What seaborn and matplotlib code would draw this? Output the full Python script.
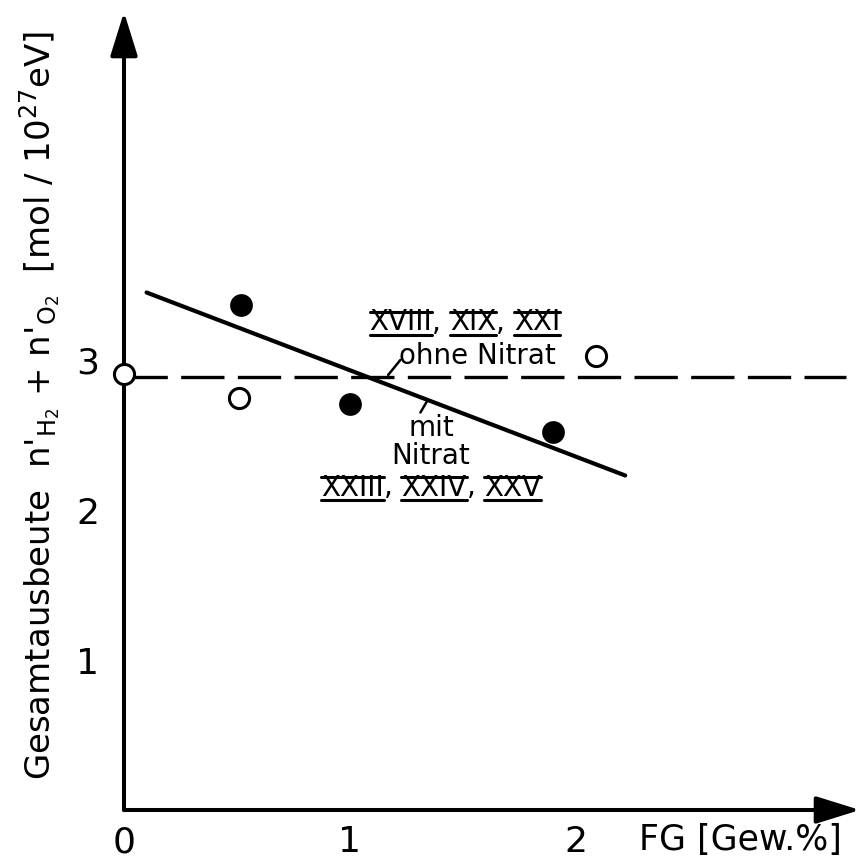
import matplotlib
matplotlib.use("Agg")
import matplotlib.pyplot as plt
import seaborn as sns
import pandas as pd

# ---- data ----
fg_mit = [0.52, 1.0, 1.9]
y_mit = [3.37, 2.71, 2.52]
fg_ohne = [0.0, 0.51, 2.09]
y_ohne = [2.91, 2.75, 3.03]
fit_mit_x = [0.10, 2.22]
fit_mit_y = [3.45, 2.23]
fit_ohne_x = [0.0, 3.2]
fit_ohne_y = [2.89, 2.89]
xticks = [0, 1, 2]
yticks = [1, 2, 3]

sns.set_theme(style="white")
plt.rcParams['font.family'] = ['DejaVu Sans']
plt.rcParams['mathtext.fontset'] = 'dejavusans'
plt.rcParams['text.color'] = 'black'
plt.rcParams['xtick.color'] = 'black'
plt.rcParams['ytick.color'] = 'black'

fig = plt.figure(figsize=(8.64, 8.64), dpi=100)
ax = fig.add_axes([124/864, 54/864, (860-124)/864, (810-15)/864])
ax.set_xlim(0, 3.26)
ax.set_ylim(0, 5.3)
for s in ax.spines.values():
    s.set_visible(False)

df_mit = pd.DataFrame({"x": fit_mit_x, "y": fit_mit_y})
df_ohne = pd.DataFrame({"x": fit_ohne_x, "y": fit_ohne_y})
sns.lineplot(data=df_ohne, x="x", y="y", ax=ax, color="black", lw=2.4,
             zorder=2).lines[-1].set_dashes([13, 4])
sns.lineplot(data=df_mit, x="x", y="y", ax=ax, color="black", lw=3.0, zorder=3)

sns.scatterplot(x=fg_mit, y=y_mit, ax=ax, s=230, color="black",
                edgecolor="black", zorder=4)
sns.scatterplot(x=fg_ohne, y=y_ohne, ax=ax, s=210, facecolor="white",
                edgecolor="black", linewidth=2.2, zorder=5)
for c in ax.collections:
    c.set_clip_on(False)

# axes with arrows
arrow_kw = dict(arrowstyle="-|>,head_length=1.35,head_width=0.42",
                lw=2.9, color="black", mutation_scale=20,
                shrinkA=0, shrinkB=0)
ax.annotate("", xy=(0, 5.32), xytext=(0, 0), xycoords="data",
            arrowprops=arrow_kw, annotation_clip=False)
ax.annotate("", xy=(3.26, 0), xytext=(0, 0), xycoords="data",
            arrowprops=arrow_kw, annotation_clip=False)

ax.set_xticks(xticks)
ax.set_yticks(yticks)
ax.set_xticklabels([str(t) for t in xticks])
ax.set_yticklabels([str(t) for t in yticks])
ax.tick_params(axis="both", direction="out", length=8, width=2.5,
               color="black", labelsize=26, labelcolor="black")
ax.tick_params(axis="y", pad=10)
ax.tick_params(axis="x", pad=3)
ax.set_xlabel("")
ax.set_ylabel("")
ax.grid(False)

fig.text(740/864, 1 - 840/864, "FG [Gew.%]", fontsize=25, ha="center",
         va="center")
fig.text(40/864, 1 - 405/864,
         r"Gesamtausbeute  n$'_{\mathrm{H_2}}$ + n$'_{\mathrm{O_2}}$  [mol / 10$^{27}$eV]",
         fontsize=24.5, rotation=90, ha="center", va="center")

# annotations
ax.text(1.565, 3.03, "ohne Nitrat", fontsize=20, ha="center", va="center")
ax.text(1.36, 2.55, "mit", fontsize=20, ha="center", va="center")
ax.text(1.36, 2.36, "Nitrat", fontsize=20, ha="center", va="center")
ax.plot([1.224, 1.17], [3.0, 2.9], color="black", lw=1.8)
ax.plot([1.344, 1.313], [2.73, 2.65], color="black", lw=1.8)


def barred_row(parts, xc, yc, size=20):
    fig.canvas.draw()
    r = fig.canvas.get_renderer()
    texts = []
    for p in parts:
        t = ax.text(0, yc, p, fontsize=size, ha="left", va="center")
        texts.append(t)
    widths = [t.get_window_extent(r).width for t in texts]
    inv = ax.transData.inverted()
    total = sum(widths)
    x0_px = ax.transData.transform((xc, yc))[0] - total / 2
    ypx = ax.transData.transform((xc, yc))[1]
    cur = x0_px
    for p, t, w in zip(parts, texts, widths):
        xd = inv.transform((cur, ypx))[0]
        t.set_x(xd)
        if p.strip(", ") != "":
            bb_top = inv.transform((cur, ypx + 11))[1]
            bb_bot = inv.transform((cur, ypx - 12))[1]
            xe = inv.transform((cur + w, ypx))[0]
            ax.plot([xd, xe], [bb_top, bb_top], color="black", lw=2.2)
            ax.plot([xd, xe], [bb_bot, bb_bot], color="black", lw=2.2)
        cur += w


barred_row(["XVIII", ", ", "XIX", ", ", "XXI"], 1.51, 3.25)
barred_row(["XXIII", ", ", "XXIV", ", ", "XXV"], 1.36, 2.15)

fig.savefig("out.png", dpi=100, facecolor="white")
